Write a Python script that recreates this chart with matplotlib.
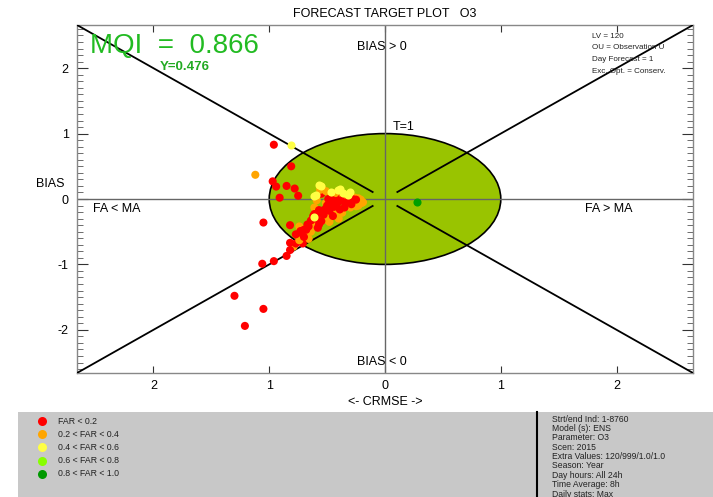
import matplotlib
matplotlib.use("Agg")
import matplotlib.pyplot as plt
from matplotlib.patches import Ellipse, Rectangle
from matplotlib.lines import Line2D
import numpy as np

plt.rcParams['font.family'] = ['Liberation Sans', 'DejaVu Sans']

# ---- data: (CRMSE-signed, BIAS) per station, grouped by FAR class ----
far_lt02_x = [-0.96, -0.81, -0.97, -0.94, -0.85, -0.78, -0.75, -0.91, -1.05, -0.82,
              -1.30, -1.05, -1.21, -0.96, -1.06, -0.85, -0.82, -0.82, -0.77, -0.71,
              -0.75, -0.73, -0.70, -0.67, -0.67, -0.55, -0.42, -0.49, -0.48, -0.41,
              -0.36, -0.28, -0.29, -0.35, -0.39, -0.45, -0.52, -0.54, -0.57, -0.61,
              -0.62, -0.55, -0.57, -0.77, -0.72, -0.68, -0.60, -0.50, -0.45, -0.33,
              -0.25, -0.64, -0.58, -0.38, -0.44, -0.48, -0.53, -0.59, -0.66, -0.70,
              -0.31]
far_lt02_y = [0.83, 0.50, 0.27, 0.19, 0.20, 0.16, 0.05, 0.02, -0.36, -0.40,
              -1.48, -1.68, -1.94, -0.95, -0.99, -0.87, -0.78, -0.67, -0.68, -0.68,
              -0.56, -0.49, -0.47, -0.49, -0.39, 0.08, 0.05, 0.00, -0.08, -0.06,
              -0.03, 0.00, -0.08, -0.13, -0.16, -0.26, -0.16, -0.21, -0.17, -0.23,
              -0.26, -0.34, -0.39, -0.54, -0.52, -0.47, -0.30, -0.10, -0.02, -0.05,
              -0.01, -0.33, -0.44, -0.02, -0.12, -0.18, -0.24, -0.28, -0.42, -0.58,
              -0.02]

far_02_04_x = [-1.12, -0.55, -0.79, -0.74, -0.59, -0.22, -0.20, -0.24, -0.21, -0.42,
               -0.40, -0.48, -0.71, -0.63, -0.65, -0.23, -0.51, -0.33, -0.61, -0.66,
               -0.26, -0.47, -0.34, -0.19, -0.23, -0.25, -0.30, -0.37, -0.45, -0.50,
               -0.53, -0.58, -0.64, -0.69, -0.74, -0.56, -0.51, -0.43, -0.36]
far_02_04_y = [0.37, 0.19, -0.73, -0.42, -0.02, -0.03, -0.06, -0.08, -0.01, -0.20,
               -0.30, -0.35, -0.58, -0.38, -0.46, -0.10, -0.06, -0.10, -0.13, -0.61,
               0.02, 0.04, 0.03, -0.05, 0.01, -0.11, -0.13, -0.21, -0.23, -0.28,
               -0.32, -0.34, -0.50, -0.53, -0.63, 0.14, 0.12, 0.09, 0.05]

far_04_06_x = [-0.81, -0.57, -0.60, -0.47, -0.41, -0.36, -0.30, -0.61, -0.32, -0.55,
               -0.61, -0.39]
far_04_06_y = [0.82, 0.21, 0.06, 0.11, 0.13, 0.09, 0.10, -0.27, 0.06, 0.20,
               0.05, 0.15]

far_06_08_x = []
far_06_08_y = []

far_08_10_x = [0.28]
far_08_10_y = [-0.04]

legend_labels = ["FAR < 0.2", "0.2 < FAR < 0.4", "0.4 < FAR < 0.6",
                 "0.6 < FAR < 0.8", "0.8 < FAR < 1.0"]
legend_colors = ["#FF0000", "#FFA500", "#FFFF44", "#88FF00", "#009900"]

x_ticks = [-2, -1, 0, 1, 2]
y_ticks = [-2, -1, 0, 1, 2]

mqi_value = 0.866
y_value = 0.476

info_lines = ["Strt/end Ind: 1-8760", "Model (s): ENS", "Parameter: O3", "Scen: 2015",
              "Extra Values: 120/999/1.0/1.0", "Season: Year", "Day hours: All 24h",
              "Time Average: 8h", "Daily stats: Max"]
corner_lines = ["LV = 120", "OU = Observation U", "Day Forecast = 1",
                "Exc. Opt. = Conserv."]

# ---- figure ----
W, H = 713, 497
fig = plt.figure(figsize=(W / 100, H / 100), dpi=100)
fig.patch.set_facecolor("white")

ax = fig.add_axes([77 / W, 1 - 373 / H, 616 / W, 348 / H])
lim = 2.66
ax.set_xlim(-lim, lim)
ax.set_ylim(-lim, lim)

frame_col = "#888888"
for s in ax.spines.values():
    s.set_color(frame_col)
    s.set_linewidth(1.0)

# target circle (unit CRMSE/BIAS)
ax.add_patch(Ellipse((0, 0), 2, 2, facecolor="#99C400", edgecolor="black",
                     linewidth=1.2, zorder=1))

# zero lines
ax.axhline(0, color="#666666", lw=1.0, zorder=2)
ax.axvline(0, color="#666666", lw=1.0, zorder=2)

# diagonals with a gap around the origin
gap = 0.1
for sx in (-1, 1):
    for sy in (-1, 1):
        xs = np.array([gap, lim + 0.1]) * sx
        ax.plot(xs, xs * sx * sy, color="black", lw=1.3, zorder=3,
                solid_capstyle="butt")

# points: red and orange stations drawn interleaved (station order), then the rest
px, py, pc = [], [], []
n = max(len(far_lt02_x), len(far_02_04_x))
for i in range(n):
    if i < len(far_02_04_x):
        px.append(far_02_04_x[i]); py.append(far_02_04_y[i]); pc.append(legend_colors[1])
    if i < len(far_lt02_x):
        px.append(far_lt02_x[i]); py.append(far_lt02_y[i]); pc.append(legend_colors[0])

ms = 34
ax.scatter(px, py, s=ms, c=pc, zorder=4, linewidths=0)
ax.scatter(far_04_06_x, far_04_06_y, s=ms, c=legend_colors[2], zorder=5, linewidths=0)
ax.scatter(far_06_08_x, far_06_08_y, s=ms, c=legend_colors[3], zorder=6, linewidths=0)
ax.scatter(far_08_10_x, far_08_10_y, s=ms, c="#00A000", zorder=6, linewidths=0)

# ticks
ax.set_xticks(x_ticks)
ax.set_xticklabels([str(abs(t)) for t in x_ticks])
ax.set_yticks(y_ticks)
ax.set_yticklabels([str(t) for t in y_ticks])
ax.set_yticks(np.arange(-2.6, 2.61, 0.1), minor=True)
ax.tick_params(axis="x", which="major", direction="in", top=True, bottom=True,
               length=5, color="#333333", labelsize=9, pad=5)
ax.tick_params(axis="y", which="major", direction="in", left=True, right=True,
               length=8, color="#333333", labelsize=9, pad=6)
ax.tick_params(axis="y", which="minor", direction="in", left=True, right=True,
               length=4, color="#555555")
ax.tick_params(axis="x", which="minor", bottom=False, top=False)

ax.set_xlabel("<- CRMSE ->", fontsize=9, labelpad=3)
fig.text(50 / W, 1 - 184 / H, "BIAS", fontsize=9, ha="center", va="center")

# text annotations in the plot
ax.set_title("FORECAST TARGET PLOT   O3", fontsize=9, pad=6)
ax.text(-0.03, 2.32, "BIAS > 0", fontsize=9, ha="center", va="center", zorder=7)
ax.text(-0.03, -2.49, "BIAS < 0", fontsize=9, ha="center", va="center", zorder=7)
ax.text(0.07, 1.10, "T=1", fontsize=9, ha="left", va="center", zorder=7)
ax.text(-2.52, -0.15, "FA < MA", fontsize=9, ha="left", va="center", zorder=7)
ax.text(1.73, -0.15, "FA > MA", fontsize=9, ha="left", va="center", zorder=7)

fig.text(90 / W, 1 - 46 / H, f"MQI  =  {mqi_value:.3f}", fontsize=20, color="#22BB22",
         ha="left", va="center")
fig.text(160 / W, 1 - 67 / H, f"Y={y_value:.3f}", fontsize=9.5, color="#22AA22",
         fontweight="bold", ha="left", va="center")

for i, line in enumerate(corner_lines):
    fig.text(592 / W, 1 - (36 + i * 11.7) / H, line, fontsize=5.8, ha="left",
             va="center", color="#222222")

# bottom info panel
panel = Rectangle((18 / W, 0), 1 - 18 / W, (H - 412) / H, transform=fig.transFigure,
                  facecolor="#C8C8C8", edgecolor="none", zorder=0)
fig.patches.append(panel)
fig.add_artist(Line2D([537 / W, 537 / W], [0, (H - 412) / H], transform=fig.transFigure,
                      color="black", lw=1.5))

for i, (lab, col) in enumerate(zip(legend_labels, legend_colors)):
    yy = 1 - (421 + i * 13.2) / H
    fig.add_artist(Line2D([42 / W], [yy], transform=fig.transFigure, marker="o",
                          markersize=6.5, color=col, linestyle="none", markeredgewidth=0))
    fig.text(58 / W, yy, lab, fontsize=6.3, ha="left", va="center", color="#222222")

for i, line in enumerate(info_lines):
    fig.text(552 / W, 1 - (419 + i * 9.4) / H, line, fontsize=6.2, ha="left",
             va="center", color="#222222")

fig.savefig("out.png", dpi=100)
